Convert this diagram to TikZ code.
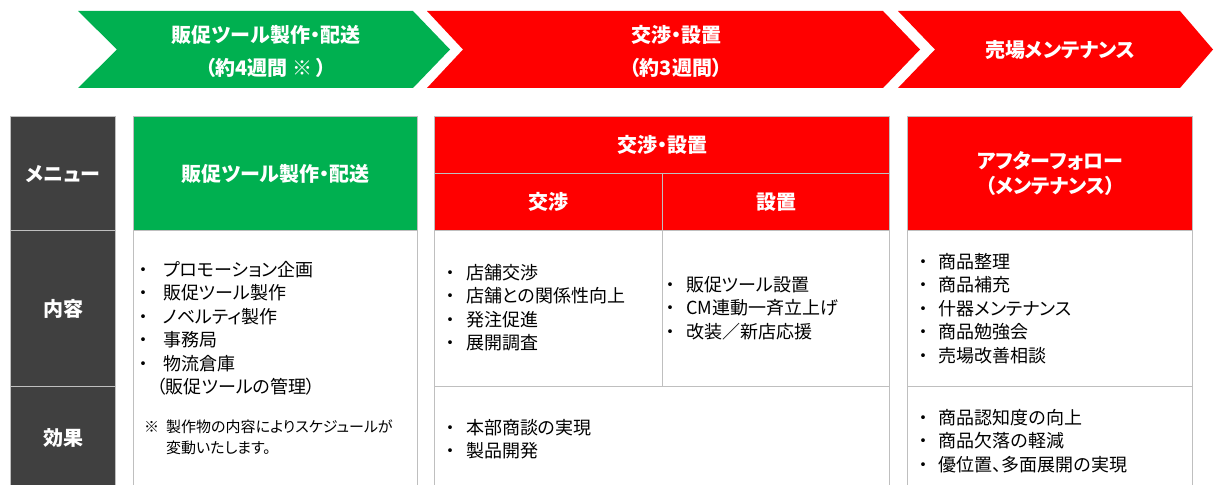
\documentclass[tikz,border=0pt]{standalone}
\usepackage{fontspec}
\setmainfont{Noto Sans CJK JP}[RawFeature=+palt]
\usetikzlibrary{positioning}
\definecolor{toolgreen}{HTML}{00B050}
\definecolor{phasered}{HTML}{FF0000}
\definecolor{menugray}{HTML}{404040}
\definecolor{gridgray}{HTML}{BFBFBF}
\tikzstyle{cell} = [rectangle, draw=gridgray, line width=1.2pt, anchor=north west, inner sep=0pt]
\tikzstyle{headtext} = [text=white, font=\fontsize{20}{25}\selectfont\bfseries, align=center]
\tikzstyle{listtext} = [anchor=north west, inner sep=0pt, align=left, font=\fontsize{18}{23.5}\selectfont]
\newlength{\bulwd}
\setlength{\bulwd}{20pt}
\newcommand{\bul}{\makebox[\bulwd][l]{\makebox[9pt][c]{・}}}

\begin{document}
\begin{tikzpicture}[x=1pt,y=-1pt]
      \useasboundingbox (0,0) rectangle (1214,484);
      % phase arrows
      \fill[toolgreen] (78,11) -- (413,11) -- (450,49.5) -- (413,88) -- (78,88) -- (117,49.5) -- cycle;
      \fill[phasered] (427,11) -- (883,11) -- (920,49.5) -- (883,88) -- (427,88) -- (463,49.5) -- cycle;
      \fill[phasered] (898,11) -- (1180,11) -- (1213,49.5) -- (1180,88) -- (898,88) -- (935,49.5) -- cycle;
      \node[headtext, font=\fontsize{20}{33}\selectfont\bfseries] (ToolPhase) at (266,51.5) {販促ツール製作・配送\\（約4週間 ※ ）};
      \node[headtext, font=\fontsize{20}{33}\selectfont\bfseries] (SetupPhase) at (676,51.5) {交渉・設置\\（約3週間）};
      \node[headtext] (MaintPhase) at (1060,49.5) {売場メンテナンス};
      %
      % menu column
      \node[cell, fill=menugray, minimum width=105pt, minimum height=114pt, headtext] (MenuHead) at (10,116) {メニュー};
      \node[cell, fill=menugray, minimum width=105pt, minimum height=156pt, headtext] (MenuContent) at (10,230) {内容};
      \node[cell, fill=menugray, minimum width=105pt, minimum height=102pt, headtext] (MenuEffect) at (10,386) {効果};
      %
      % tool column
      \node[cell, fill=toolgreen, minimum width=284pt, minimum height=114pt, headtext] (ToolHead) at (133,116) {販促ツール製作・配送};
      \node[cell, fill=white, minimum width=284pt, minimum height=258pt] (ToolBody) at (133,230) {};
      \node[listtext, font=\fontsize{18}{23.5}\selectfont\setlength{\bulwd}{24.5pt}] (ToolList) at (138.5,261) {\bul プロモーション企画\\\bul 販促ツール製作\\\bul ノベルティ製作\\\bul 事務局\\\bul 物流倉庫\\\hspace*{18pt}（販促ツールの管理）};
      \node[listtext, font=\fontsize{15}{21}\selectfont] (ToolNote) at (144,419.5) {\makebox[22pt][l]{※}製作物の内容によりスケジュールが\\\hspace*{22pt}変動いたします。};
      %
      % negotiation / setup column
      \node[cell, fill=phasered, minimum width=455pt, minimum height=57pt, headtext] (SetupHead) at (434,116) {交渉・設置};
      \node[cell, fill=phasered, minimum width=228pt, minimum height=57pt, headtext] (NegoHead) at (434,173) {交渉};
      \node[cell, fill=phasered, minimum width=227pt, minimum height=57pt, headtext] (InstHead) at (662,173) {設置};
      \node[cell, fill=white, minimum width=228pt, minimum height=156pt] (NegoContent) at (434,230) {};
      \node[cell, fill=white, minimum width=227pt, minimum height=156pt] (InstContent) at (662,230) {};
      \node[cell, fill=white, minimum width=455pt, minimum height=102pt] (SetupEffect) at (434,386) {};
      \node[listtext] (NegoList) at (446,264) {\bul 店舗交渉\\\bul 店舗との関係性向上\\\bul 発注促進\\\bul 展開調査};
      \node[listtext] (InstList) at (666,276) {\bul 販促ツール設置\\\bul CM連動一斉立上げ\\\bul 改装／新店応援};
      \node[listtext] (SetupEffectList) at (446,419) {\bul 本部商談の実現\\\bul 製品開発};
      %
      % after-follow column
      \node[cell, fill=phasered, minimum width=285pt, minimum height=114pt, headtext] (FollowHead) at (907,116) {アフターフォロー\\（メンテナンス）};
      \node[cell, fill=white, minimum width=285pt, minimum height=156pt] (FollowContent) at (907,230) {};
      \node[cell, fill=white, minimum width=285pt, minimum height=102pt] (FollowEffect) at (907,386) {};
      \node[listtext] (FollowList) at (918.5,253) {\bul 商品整理\\\bul 商品補充\\\bul 什器メンテナンス\\\bul 商品勉強会\\\bul 売場改善相談};
      \node[listtext] (FollowEffectList) at (918.5,409) {\bul 商品認知度の向上\\\bul 商品欠落の軽減\\\bul 優位置、多面展開の実現};
    \end{tikzpicture}
\end{document}
